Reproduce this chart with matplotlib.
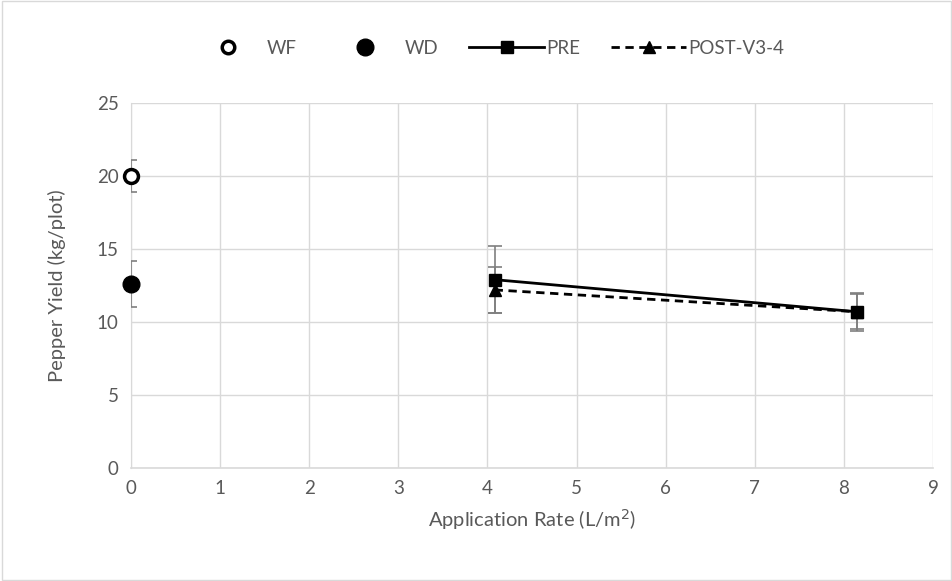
import matplotlib
matplotlib.use("Agg")
import matplotlib.pyplot as plt
from matplotlib.lines import Line2D

# Data
wf_x = [0]
wf_y = [20.0]
wf_err = [1.1]
wd_x = [0]
wd_y = [12.6]
wd_err = [1.6]
rate = [4.08, 8.15]
pre_y = [12.9, 10.7]
pre_err = [2.3, 1.3]
post_y = [12.2, 10.7]
post_err = [1.6, 1.2]
xticks = [0, 1, 2, 3, 4, 5, 6, 7, 8, 9]
yticks = [0, 5, 10, 15, 20, 25]

plt.rcParams['font.family'] = ['Lato', 'DejaVu Sans']
txt = '#595959'
grid = '#d9d9d9'

fig = plt.figure(figsize=(9.53, 5.81), dpi=100)
ax = fig.add_axes([0.1375, 0.1945, 0.979 - 0.1375, 0.8227 - 0.1945])

ecol = '#7f7f7f'
ax.errorbar(rate, post_y, yerr=post_err, fmt='none', ecolor=ecol, elinewidth=1.2, capsize=5, capthick=1.2, zorder=3)
ax.errorbar(rate, pre_y, yerr=pre_err, fmt='none', ecolor=ecol, elinewidth=1.2, capsize=5, capthick=1.2, zorder=3)
ax.errorbar(wf_x, wf_y, yerr=wf_err, fmt='none', ecolor=ecol, elinewidth=1.2, capsize=4, capthick=1.2, zorder=3)
ax.errorbar(wd_x, wd_y, yerr=wd_err, fmt='none', ecolor=ecol, elinewidth=1.2, capsize=4, capthick=1.2, zorder=3)

ax.plot(rate, post_y, color='black', linestyle=(0, (3, 2)), linewidth=2, marker='^', markersize=8, zorder=4)
ax.plot(rate, pre_y, color='black', linestyle='-', linewidth=2, marker='s', markersize=9, zorder=5)
ax.plot(wf_x, wf_y, linestyle='none', marker='o', markersize=10, markerfacecolor='white',
        markeredgecolor='black', markeredgewidth=2.5, zorder=6, clip_on=False)
ax.plot(wd_x, wd_y, linestyle='none', marker='o', markersize=12, color='black', zorder=6, clip_on=False)

ax.set_xlim(0, 9)
ax.set_ylim(0, 25)
ax.set_xticks(xticks)
ax.set_yticks(yticks)
ax.grid(True, color=grid, linewidth=1)
ax.set_axisbelow(True)
for s in ['top', 'right']:
    ax.spines[s].set_visible(False)
ax.spines['left'].set_color(grid)
ax.spines['bottom'].set_color(grid)
ax.spines['bottom'].set_linewidth(1.2)
ax.tick_params(axis='both', length=0, labelsize=13.5, labelcolor=txt, pad=9)
ax.set_xlabel('Application Rate (L/m$^2$)', fontsize=14.5, color=txt, labelpad=7)
ax.set_ylabel('Pepper Yield (kg/plot)', fontsize=14.5, color=txt, labelpad=22)

handles = [
    Line2D([], [], linestyle='none', marker='o', markersize=9, markerfacecolor='white',
           markeredgecolor='black', markeredgewidth=2.5),
    Line2D([], [], linestyle='none', marker='o', markersize=12, color='black'),
    Line2D([], [], color='black', linestyle='-', linewidth=2, marker='s', markersize=9),
    Line2D([], [], color='black', linestyle=(0, (3, 2)), linewidth=2, marker='^', markersize=8),
]
labels = ['WF', 'WD', 'PRE', 'POST-V3-4']
fig.legend(handles, labels, loc='center', bbox_to_anchor=(0.511, 0.917), ncol=4, frameon=False,
           fontsize=13.5, labelcolor=txt, handlelength=4.0, handletextpad=0.1, columnspacing=1.65)

fig.patches.append(plt.Rectangle((0.002, 0.002), 0.996, 0.996, transform=fig.transFigure,
                                 fill=False, edgecolor='#d9d9d9', linewidth=1))
fig.savefig('out.png', dpi=100)
